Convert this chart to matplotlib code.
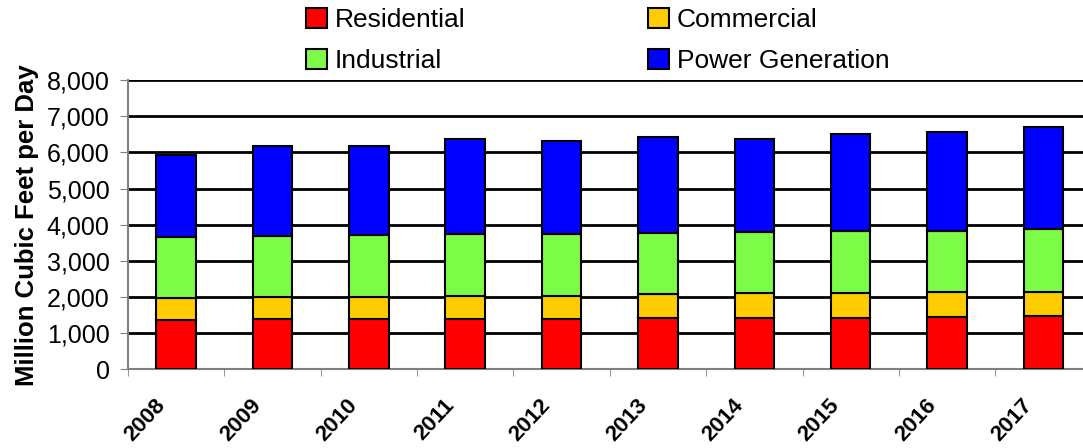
import matplotlib.pyplot as plt
import matplotlib.transforms as mtransforms
import numpy as np

plt.rcParams['font.family'] = ['Liberation Sans', 'DejaVu Sans']

# values (million cubic feet per day)
years = ['2008', '2009', '2010', '2011', '2012', '2013', '2014', '2015', '2016', '2017']
residential = [1360, 1375, 1375, 1400, 1395, 1430, 1430, 1430, 1450, 1485]
commercial = [615, 630, 630, 630, 625, 640, 665, 665, 675, 640]
industrial = [1690, 1680, 1720, 1725, 1735, 1710, 1710, 1735, 1710, 1745]
power = [2265, 2495, 2455, 2605, 2565, 2660, 2575, 2680, 2740, 2825]

names = ['Residential', 'Commercial', 'Industrial', 'Power Generation']
colors = ['#ff0000', '#ffcc00', '#7dfc47', '#0000ff']

fig = plt.figure(figsize=(10.83, 4.48), dpi=100)
ax = fig.add_axes([0.118, 0.176, 0.89, 0.645])

x = np.arange(len(years))
bottom = np.zeros(len(years))
bars = []
for vals, name, c in zip([residential, commercial, industrial, power], names, colors):
    b = ax.bar(x, vals, width=0.41, bottom=bottom, color=c, edgecolor='black',
               linewidth=1.5, label=name, zorder=3)
    bars.append(b)
    bottom += np.array(vals)

ax.set_ylim(0, 8000)
ax.set_xlim(-0.5, 9.5)
ax.set_yticks(range(0, 8001, 1000))
ax.set_yticklabels([f'{v:,}' for v in range(0, 8001, 1000)], fontsize=18)
ax.yaxis.grid(True, color='black', linewidth=2)
ax.set_axisbelow(True)

# year labels, rotated and sitting a little left of each bar
ax.set_xticks(x)
ax.set_xticklabels([])
ax.tick_params(axis='x', which='major', length=0)
shift = mtransforms.ScaledTranslation(-22 / 100, -26 / 100, fig.dpi_scale_trans)
for xi, yr in zip(x, years):
    ax.text(xi, 0, yr, transform=ax.get_xaxis_transform() + shift,
            rotation=47, ha='right', va='top', rotation_mode='anchor',
            fontsize=16, fontweight='bold')

ax.set_xticks(np.arange(-0.5, 10, 1), minor=True)
ax.tick_params(axis='x', which='minor', length=5, color='gray')
ax.tick_params(axis='y', length=6, color='gray', pad=7)

for s in ['top', 'right']:
    ax.spines[s].set_visible(False)
ax.spines['left'].set_color('gray')
ax.spines['bottom'].set_color('gray')
ax.spines['left'].set_linewidth(1.5)
ax.spines['bottom'].set_linewidth(1.5)

ax.set_ylabel('Million Cubic Feet per Day', fontsize=18.5, fontweight='bold', labelpad=6)

# legend: Residential/Commercial on row 1, Industrial/Power on row 2
order = [0, 2, 1, 3]
fig.legend([bars[i] for i in order], [names[i] for i in order], ncol=2,
           loc='upper left', bbox_to_anchor=(0.2605, 1.035), frameon=False,
           fontsize=19, handlelength=0.8, handleheight=0.8, handletextpad=0.3,
           columnspacing=6.9, labelspacing=0.62)

fig.savefig('out.png', dpi=100)
